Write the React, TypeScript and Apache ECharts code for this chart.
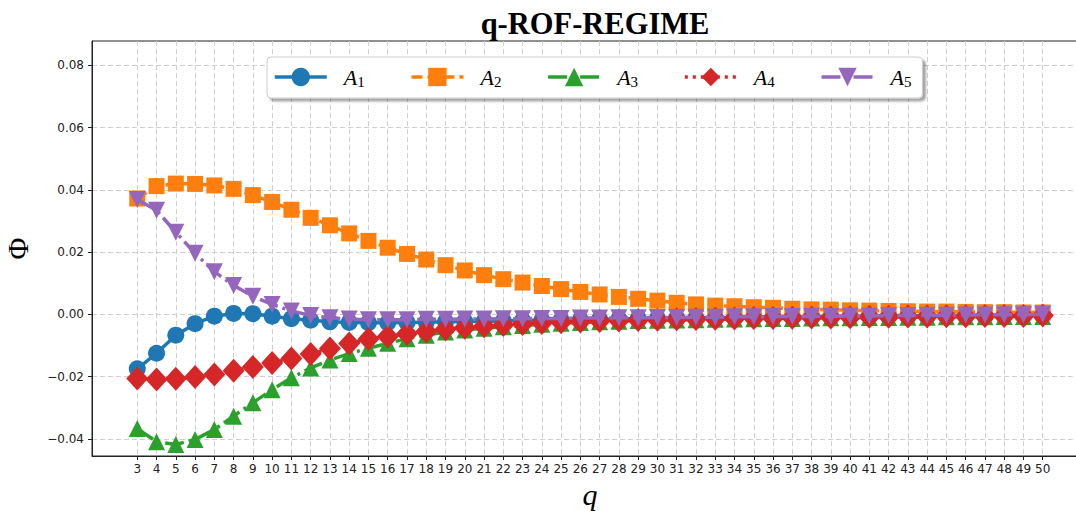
import React, { useEffect, useRef } from "react";
import * as echarts from "echarts";

const qValues = [3, 4, 5, 6, 7, 8, 9, 10, 11, 12, 13, 14, 15, 16, 17, 18, 19, 20, 21, 22, 23, 24, 25, 26, 27, 28, 29, 30, 31, 32, 33, 34, 35, 36, 37, 38, 39, 40, 41, 42, 43, 44, 45, 46, 47, 48, 49, 50];

const A1 = [-0.0175, -0.0125, -0.0067, -0.003, -0.0006, 0.0003, 0.0002, -0.0006, -0.0014, -0.0019, -0.0024, -0.0026, -0.0027, -0.0027, -0.0026, -0.0025, -0.0024, -0.0023, -0.0022, -0.0021, -0.002, -0.0019, -0.0018, -0.0017, -0.0016, -0.0015, -0.0014, -0.0013, -0.0012, -0.0012, -0.0011, -0.001, -0.001, -0.0009, -0.0009, -0.0008, -0.0008, -0.0007, -0.0007, -0.0006, -0.0006, -0.0006, -0.0005, -0.0005, -0.0005, -0.0004, -0.0004, -0.0004];

const A2 = [0.0372, 0.0412, 0.042, 0.0419, 0.0414, 0.0403, 0.0383, 0.0361, 0.0336, 0.031, 0.0286, 0.026, 0.0236, 0.0214, 0.0194, 0.0176, 0.0158, 0.0141, 0.0126, 0.0113, 0.0102, 0.0091, 0.0081, 0.0072, 0.0064, 0.0056, 0.005, 0.0044, 0.0037, 0.0032, 0.0028, 0.0026, 0.0023, 0.0021, 0.0018, 0.0016, 0.0015, 0.0013, 0.0012, 0.0011, 0.001, 0.0009, 0.0009, 0.0008, 0.0007, 0.0007, 0.0006, 0.0006];

const A3 = [-0.0367, -0.0409, -0.0418, -0.0402, -0.037, -0.0327, -0.0284, -0.0242, -0.0204, -0.0172, -0.0147, -0.0126, -0.0109, -0.0093, -0.0078, -0.0067, -0.0057, -0.005, -0.0045, -0.004, -0.0036, -0.0032, -0.0029, -0.0026, -0.0024, -0.0022, -0.002, -0.0019, -0.0018, -0.0017, -0.0016, -0.0015, -0.0014, -0.0013, -0.0013, -0.0012, -0.0011, -0.0011, -0.001, -0.001, -0.0009, -0.0009, -0.0008, -0.0008, -0.0008, -0.0007, -0.0007, -0.0007];

const A4 = [-0.0206, -0.0209, -0.0207, -0.0201, -0.0193, -0.0181, -0.0169, -0.0156, -0.0142, -0.0127, -0.011, -0.0094, -0.0079, -0.0071, -0.0062, -0.0055, -0.0048, -0.0043, -0.0038, -0.0034, -0.0031, -0.0028, -0.0025, -0.0023, -0.0021, -0.002, -0.0018, -0.0017, -0.0016, -0.0015, -0.0014, -0.0013, -0.0012, -0.0012, -0.0011, -0.001, -0.001, -0.0009, -0.0008, -0.0008, -0.0007, -0.0007, -0.0006, -0.0006, -0.0005, -0.0005, -0.0005, -0.0004];

const A5 = [0.0369, 0.0334, 0.0264, 0.0196, 0.0137, 0.0093, 0.0058, 0.0032, 0.0011, -0.0004, -0.0011, -0.0015, -0.0017, -0.0017, -0.0017, -0.0016, -0.0016, -0.0015, -0.0015, -0.0014, -0.0014, -0.0013, -0.0013, -0.0012, -0.0012, -0.0011, -0.0011, -0.001, -0.001, -0.0009, -0.0009, -0.0008, -0.0008, -0.0007, -0.0007, -0.0006, -0.0006, -0.0005, -0.0005, -0.0004, -0.0004, -0.0003, -0.0003, -0.0002, -0.0002, -0.0001, -0.0001, 0.0];

const seriesNames = ["A1", "A2", "A3", "A4", "A5"];
const seriesValues = [A1, A2, A3, A4, A5];
const yTicks = [-0.04, -0.02, 0.0, 0.02, 0.04, 0.06, 0.08];
const titleText = "q-ROF-REGIME";
const xName = "q";
const yName = "Φ";

const colors = ["#1f77b4", "#ff7f0e", "#2ca02c", "#d62728", "#9467bd"];
const looks: any[] = [
  { symbol: "circle", size: 17, rotate: 0, dash: "solid" },
  { symbol: "rect", size: 16, rotate: 0, dash: [11, 5] },
  { symbol: "triangle", size: 17, rotate: 0, dash: [19, 5, 3, 5] },
  { symbol: "diamond", size: [22, 24], rotate: 0, dash: [3, 5] },
  { symbol: "triangle", size: 17, rotate: 180, dash: [19, 5, 3, 5] },
];

const fmtY = (v: number) => {
  const s = Math.abs(v).toFixed(2);
  return v < -1e-9 ? "\u2212" + s : s;
};

export default function App() {
  const ref = useRef<HTMLDivElement>(null);
  useEffect(() => {
    if (!ref.current) return;
    const chart = echarts.init(ref.current, undefined, { renderer: "svg" });
    const gridLine = { show: true, lineStyle: { color: "#cfcfcf", type: [5, 3], width: 1 } };
    const option: any = {
      animation: false,
      backgroundColor: "#ffffff",
      title: {
        text: titleText,
        left: 590,
        textAlign: "center",
        top: 3,
        textStyle: { fontFamily: "Liberation Serif", fontWeight: "bold", fontSize: 30.5, color: "#000" },
      },
      grid: {
        left: 92, right: -12, top: 41, bottom: 55,
        outerBoundsMode: "none", containLabel: false,
        show: true, borderColor: "#222", borderWidth: 1, backgroundColor: "transparent",
      },
      legend: {
        left: 267,
        top: 57,
        itemWidth: 52,
        itemHeight: 23,
        itemGap: 45,
        padding: [9, 11, 9, 6],
        backgroundColor: "#fff",
        borderColor: "#cccccc",
        borderWidth: 1,
        borderRadius: 4,
        shadowColor: "rgba(0,0,0,0.35)",
        shadowOffsetX: 3,
        shadowOffsetY: 3,
        shadowBlur: 2,
        lineStyle: { width: 3.5 },
        data: seriesNames,
        formatter: (name: string) => `{a|A}{s|${name.slice(1)}}`,
        textStyle: {
          padding: [0, 0, 0, 12],
          rich: {
            a: { fontFamily: "Liberation Serif", fontStyle: "italic", fontSize: 22, color: "#000", lineHeight: 24 },
            s: { fontFamily: "Liberation Serif", fontSize: 15, color: "#000", verticalAlign: "bottom", lineHeight: 24, padding: [6, 0, 0, 0] },
          },
        },
      },
      xAxis: {
        type: "value",
        min: 0.65,
        max: 52.35,
        name: xName,
        nameLocation: "middle",
        nameGap: 20,
        nameTextStyle: { fontFamily: "Liberation Serif", fontStyle: "italic", fontSize: 30, color: "#000" },
        axisLine: { show: true, onZero: false, lineStyle: { color: "#222", width: 1 } },
        axisTick: { show: true, inside: false, length: 4, customValues: qValues, lineStyle: { color: "#222" } },
        axisLabel: { customValues: qValues, fontFamily: "DejaVu Sans", fontSize: 12, color: "#222", margin: 7, hideOverlap: false },
        splitLine: gridLine,
      },
      yAxis: {
        type: "value",
        min: -0.0455,
        max: 0.0878,
        name: yName,
        nameLocation: "middle",
        nameGap: 60,
        nameTextStyle: { fontFamily: "Liberation Serif", fontSize: 30, color: "#000" },
        axisLine: { show: true, onZero: false, lineStyle: { color: "#222", width: 1 } },
        axisTick: { show: true, inside: false, length: 4, customValues: yTicks, lineStyle: { color: "#222" } },
        axisLabel: { customValues: yTicks, formatter: fmtY, fontFamily: "DejaVu Sans", fontSize: 12, color: "#222", margin: 8 },
        splitLine: gridLine,
      },
      series: seriesNames.map((name, i) => ({
        name,
        type: "line",
        z: 2 + i,
        data: qValues.map((q, j) => [q, seriesValues[i][j]]),
        symbol: looks[i].symbol,
        symbolSize: looks[i].size,
        symbolRotate: looks[i].rotate,
        showAllSymbol: true,
        color: colors[i],
        itemStyle: { color: colors[i], borderWidth: 0 },
        lineStyle: { color: colors[i], width: 3.5, type: looks[i].dash },
        emphasis: { disabled: true },
      })),
    };
    chart.setOption(option);
    return () => chart.dispose();
  }, []);
  return <div ref={ref} style={{ position: "fixed", left: 0, top: 0, width: 1076, height: 511 }} />;
}
